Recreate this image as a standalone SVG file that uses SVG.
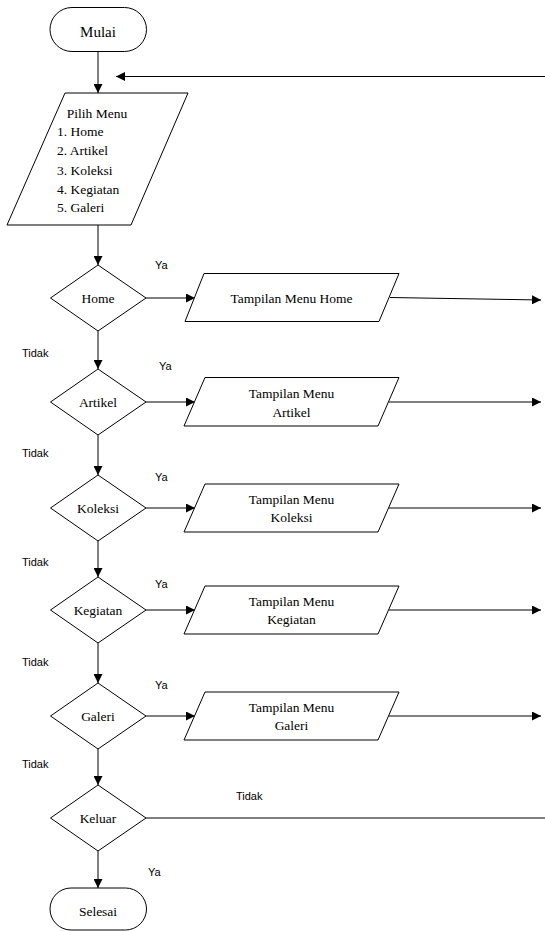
<svg xmlns="http://www.w3.org/2000/svg" width="545" height="931" viewBox="0 0 545 931">
<style>
.s{fill:#fff;stroke:#000;stroke-width:1}
.c{fill:none;stroke:#000;stroke-width:1}
.t{font-family:"Liberation Serif","Times New Roman",serif;font-size:13.5px;fill:#000;text-anchor:middle}
.tl{font-family:"Liberation Serif","Times New Roman",serif;font-size:13.5px;fill:#000}
.l{font-family:"Liberation Sans",Arial,sans-serif;font-size:11px;fill:#000}
</style>
<defs>
<marker id="a" viewBox="0 0 10 10" refX="10" refY="5" markerWidth="9" markerHeight="9" markerUnits="userSpaceOnUse" orient="auto">
<path d="M0,0 L10,5 L0,10 z" fill="#000"/>
</marker>
</defs>
<g id="connectors">
<path class="c" d="M98,52 V93" marker-end="url(#a)"/>
<path class="c" d="M545,76.5 H116" marker-end="url(#a)"/>
<path class="c" d="M98,225 V265" marker-end="url(#a)"/>
<path class="c" d="M98,331 V369" marker-end="url(#a)"/>
<path class="c" d="M98,435 V475" marker-end="url(#a)"/>
<path class="c" d="M98,541 V577" marker-end="url(#a)"/>
<path class="c" d="M98,643 V683" marker-end="url(#a)"/>
<path class="c" d="M98,749 V785" marker-end="url(#a)"/>
<path class="c" d="M98,851 V888" marker-end="url(#a)"/>
<path class="c" d="M146,298 H195" marker-end="url(#a)"/>
<path class="c" d="M146,402 H195" marker-end="url(#a)"/>
<path class="c" d="M146,508 H195" marker-end="url(#a)"/>
<path class="c" d="M146,610 H195" marker-end="url(#a)"/>
<path class="c" d="M146,716 H195" marker-end="url(#a)"/>
<path class="c" d="M390,297.5 L541,300" marker-end="url(#a)"/>
<path class="c" d="M389,402 H541" marker-end="url(#a)"/>
<path class="c" d="M389,508 H541" marker-end="url(#a)"/>
<path class="c" d="M389,610 H541" marker-end="url(#a)"/>
<path class="c" d="M389,716 H541" marker-end="url(#a)"/>
<path class="c" d="M146,818 H545"/>
<text class="l" x="155" y="269">Ya</text>
<text class="l" x="159" y="370">Ya</text>
<text class="l" x="155" y="481">Ya</text>
<text class="l" x="155" y="588">Ya</text>
<text class="l" x="155" y="689">Ya</text>
<text class="l" x="148" y="876">Ya</text>
<text class="l" x="22" y="357">Tidak</text>
<text class="l" x="22" y="457">Tidak</text>
<text class="l" x="22" y="566">Tidak</text>
<text class="l" x="22" y="666">Tidak</text>
<text class="l" x="22" y="768">Tidak</text>
<text class="l" x="236" y="800">Tidak</text>
</g>
<g id="mulai">
<rect class="s" x="50" y="7.5" width="96.5" height="44" rx="22" ry="22"/>
<text class="t" x="98" y="36.5" style="font-size:15px">Mulai</text>
</g>
<g id="pilih-menu">
<polygon class="s" points="65,93 188,93 131,225 7,225"/>
<text class="t" x="97" y="118">Pilih Menu</text>
<text class="tl" x="57" y="136">1. Home</text>
<text class="tl" x="57" y="155">2. Artikel</text>
<text class="tl" x="57" y="174.5">3. Koleksi</text>
<text class="tl" x="57" y="193.5">4. Kegiatan</text>
<text class="tl" x="57" y="212">5. Galeri</text>
</g>
<g id="d-home">
<polygon class="s" points="98,265 146,298 98,331 50.5,298"/>
<text class="t" x="98" y="303">Home</text>
</g>
<g id="p-home">
<polygon class="s" points="204,273.5 399,273.5 379,321.5 185,321.5"/>
<text class="t" x="291.5" y="302.5">Tampilan Menu Home</text>
</g>
<g id="d-artikel">
<polygon class="s" points="98,369 146,402 98,435 50.5,402"/>
<text class="t" x="98" y="407">Artikel</text>
</g>
<g id="p-artikel">
<polygon class="s" points="205,377.5 399,377.5 378,426 184,426"/>
<text class="t" x="291.5" y="398">Tampilan Menu</text>
<text class="t" x="291.5" y="416.5">Artikel</text>
</g>
<g id="d-koleksi">
<polygon class="s" points="98,475 146,508 98,541 50.5,508"/>
<text class="t" x="98" y="513">Koleksi</text>
</g>
<g id="p-koleksi">
<polygon class="s" points="205,484 399,484 378,532 184,532"/>
<text class="t" x="291.5" y="504">Tampilan Menu</text>
<text class="t" x="291.5" y="521.5">Koleksi</text>
</g>
<g id="d-kegiatan">
<polygon class="s" points="98,577 146,610 98,643 50.5,610"/>
<text class="t" x="98" y="615">Kegiatan</text>
</g>
<g id="p-kegiatan">
<polygon class="s" points="205,586 399,586 378,634 184,634"/>
<text class="t" x="291.5" y="606">Tampilan Menu</text>
<text class="t" x="291.5" y="623.5">Kegiatan</text>
</g>
<g id="d-galeri">
<polygon class="s" points="98,683 146,716 98,749 50.5,716"/>
<text class="t" x="98" y="721">Galeri</text>
</g>
<g id="p-galeri">
<polygon class="s" points="205,692 399,692 378,740 184,740"/>
<text class="t" x="291.5" y="712">Tampilan Menu</text>
<text class="t" x="291.5" y="729.5">Galeri</text>
</g>
<g id="d-keluar">
<polygon class="s" points="98,785 146,818 98,851 50.5,818"/>
<text class="t" x="98" y="823">Keluar</text>
</g>
<g id="selesai">
<rect class="s" x="50" y="888" width="96.5" height="42" rx="21" ry="21"/>
<text class="t" x="98" y="916">Selesai</text>
</g>
</svg>
